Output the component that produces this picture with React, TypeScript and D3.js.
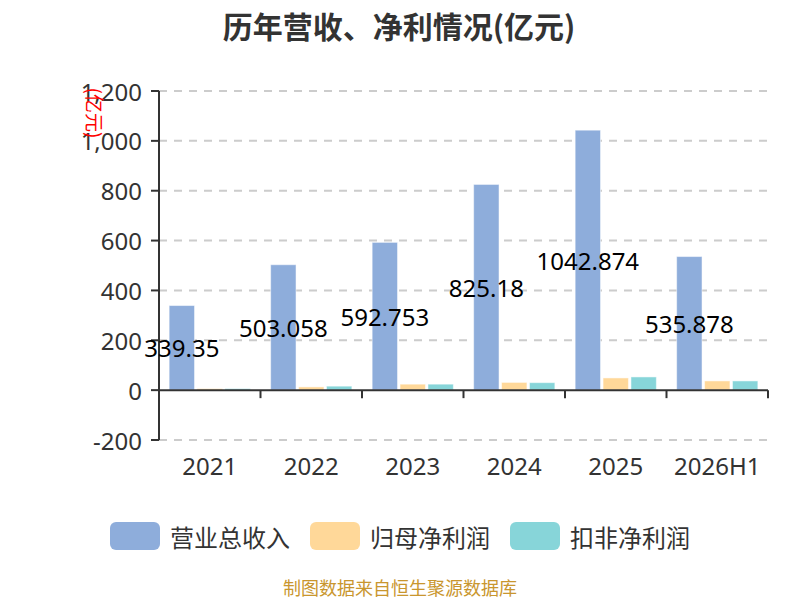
import React from "react";
import * as d3 from "d3";

const categories = ["2021", "2022", "2023", "2024", "2025", "2026H1"];
const seriesNames = ["营业总收入", "归母净利润", "扣非净利润"];
const revenue = [339.35, 503.058, 592.753, 825.18, 1042.874, 535.878];
const netProfit = [1.2, 13, 24, 31, 49, 37];
const deductedProfit = [0.8, 16, 24, 30, 53, 37];
const yTicks = [-200, 0, 200, 400, 600, 800, 1000, 1200];
const colors = ["#8eaddb", "#ffd899", "#87d5d9"];

const W = 800;
const H = 600;
const left = 159;
const right = 768;
const top = 91;
const bottom = 440;
const CJK = "'Noto Sans CJK SC', 'Noto Sans', sans-serif";
const LATIN = "'Noto Sans', 'Noto Sans CJK SC', sans-serif";

export default function App() {
  const y = d3.scaleLinear().domain([-200, 1200]).range([bottom, top]);
  const x = d3.scaleBand<string>().domain(categories).range([left, right]).paddingInner(0).paddingOuter(0);
  const bw = x.bandwidth();
  const groupW = bw * 0.8;
  const barW = groupW / (3 + 0.2);
  const gap = barW * 0.1;
  const series = [revenue, netProfit, deductedProfit];
  const fmt = (t: number) => d3.format(",")(t).replace("\u2212", "-");

  return (
    <svg width={W} height={H} style={{ position: "absolute", left: 0, top: 0, background: "#fff" }} fontFamily={CJK}>
      <text x={399} y={25} textAnchor="middle" dominantBaseline="central" fontSize={30} fontWeight="bold" fill="#333">
        历年营收、净利情况(亿元)
      </text>
      {/* grid */}
      {yTicks.filter((t) => t !== 0).map((t) => (
        <line key={"g" + t} x1={left} x2={right} y1={y(t)} y2={y(t)} stroke="#cccccc" strokeWidth={2} strokeDasharray="8,7" />
      ))}
      {/* bars */}
      {series.map((vals, si) =>
        vals.map((v, ci) => {
          const x0 = (x(categories[ci]) as number) + (bw - groupW) / 2 + si * (barW + gap);
          const h = Math.max(Math.abs(y(v) - y(0)), 1.5);
          const y0 = y(0) - h;
          return (
            <rect key={si + "-" + ci} x={x0} y={y0} width={barW} height={h} fill={colors[si]} stroke="#ffffff" strokeOpacity={0.5} strokeWidth={1} />
          );
        })
      )}
      {/* y axis */}
      <line x1={left} x2={left} y1={top} y2={bottom} stroke="#333" strokeWidth={2} />
      {yTicks.map((t) => (
        <g key={"t" + t}>
          <line x1={left - 8} x2={left} y1={y(t)} y2={y(t)} stroke="#333" strokeWidth={2} />
          <text x={142} y={y(t)} textAnchor="end" dominantBaseline="central" fontSize={24} fill="#333" fontFamily={LATIN}>
            {fmt(t)}
          </text>
        </g>
      ))}
      {/* x axis at zero */}
      <line x1={left} x2={right} y1={y(0)} y2={y(0)} stroke="#333" strokeWidth={2} />
      {categories.map((c, i) => (
        <line key={"xt" + i} x1={(x(c) as number) + bw} x2={(x(c) as number) + bw} y1={y(0)} y2={y(0) + 8} stroke="#333" strokeWidth={2} />
      ))}
      {categories.map((c) => (
        <text key={"xl" + c} x={(x(c) as number) + bw / 2} y={465} textAnchor="middle" dominantBaseline="central" fontSize={24} fill="#333" fontFamily={LATIN}>
          {c}
        </text>
      ))}
      {/* axis name */}
      <text transform={`translate(95,113) rotate(90)`} textAnchor="middle" dominantBaseline="central" fontSize={19} fill="#ff0000">
        (亿元)
      </text>
      {/* value labels */}
      {revenue.map((v, ci) => {
        const cx = (x(categories[ci]) as number) + (bw - groupW) / 2 + barW / 2;
        return (
          <text key={"v" + ci} x={cx} y={y(v / 2)} textAnchor="middle" dominantBaseline="central" fontSize={24} fill="#000" fontFamily={LATIN}>
            {String(v)}
          </text>
        );
      })}
      {/* legend */}
      {seriesNames.map((n, i) => {
        const lx = 110 + i * 200;
        return (
          <g key={"lg" + i}>
            <rect x={lx} y={522} width={50} height={28} rx={6} fill={colors[i]} />
            <text x={lx + 60} y={536} dominantBaseline="central" fontSize={24} fill="#333">
              {n}
            </text>
          </g>
        );
      })}
      <text x={400} y={587} textAnchor="middle" dominantBaseline="central" fontSize={18} fill="#c9962e">
        制图数据来自恒生聚源数据库
      </text>
    </svg>
  );
}
